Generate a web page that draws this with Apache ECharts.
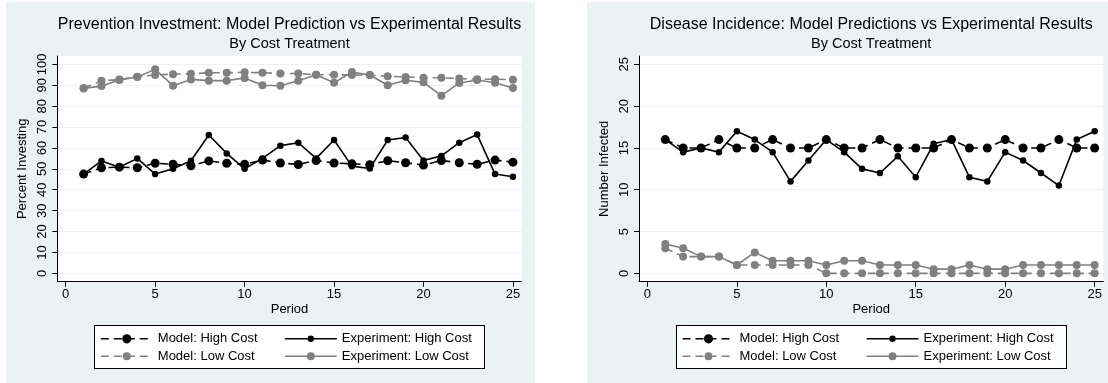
<!DOCTYPE html>
<html>
<head>
<meta charset="utf-8">
<script src="https://cdn.jsdelivr.net/npm/echarts@6/dist/echarts.min.js"></script>
<style>
html,body{margin:0;padding:0;background:#fff;overflow:hidden;width:1108px;height:383px;position:relative}
.panel{position:absolute;top:2px;width:529px;height:381px;background:#EAF2F3}
.lbox{position:absolute;top:325px;width:391px;height:44px;box-sizing:border-box;border:1px solid #000;background:#fff}
#c{position:absolute;left:0;top:0;width:1108px;height:383px}
</style>
</head>
<body>
<div class="panel" style="left:6px"></div>
<div class="panel" style="left:587px"></div>
<div class="lbox" style="left:94px"></div>
<div class="lbox" style="left:676px"></div>
<div id="c"></div>
<script>
// ---- data ----
const periods = [1,2,3,4,5,6,7,8,9,10,11,12,13,14,15,16,17,18,19,20,21,22,23,24,25];

// Left chart: Percent Investing
const invModelHigh = [47.5,50.5,50.8,50.5,52.7,52.2,51.5,53.8,52.7,52.2,54.2,52.8,52.1,54.0,52.8,52.4,52.0,53.9,52.9,51.8,54.0,52.9,52.2,54.2,53.2];
const invExpHigh   = [47.5,53.8,50.8,55.0,47.5,50.0,53.9,66.2,57.4,50.0,55.0,61.1,62.5,55.0,63.8,51.3,50.2,63.8,65.0,54.0,56.2,62.5,66.4,47.5,46.2];
const invModelLow  = [88.7,92.1,92.7,94.1,94.9,95.3,95.5,96.0,96.0,96.2,96.0,95.6,95.6,95.0,95.0,94.9,94.9,94.3,94.0,93.6,93.6,93.2,92.9,92.9,92.6];
const invExpLow    = [88.5,89.6,92.5,94.0,97.6,89.8,92.8,92.2,92.2,93.5,90.0,89.8,92.2,95.0,91.2,96.3,94.9,90.0,92.4,91.4,85.0,91.1,92.5,91.2,88.7];

// Right chart: Number Infected
const infModelHigh = [16,15,15,16,15,15,16,15,15,16,15,15,16,15,15,15,16,15,15,16,15,15,16,15,15];
const infExpHigh   = [16,14.5,15,14.5,17,16,14.5,11,13.5,16,14.5,12.5,12,14,11.5,15.5,16,11.5,11,14.5,13.5,12,10.5,16,17];
const infModelLow  = [3,2,2,2,1,1,1,1,1,0,0,0,0,0,0,0,0,0,0,0,0,0,0,0,0];
const infExpLow    = [3.5,3,2,2,1,2.5,1.5,1.5,1.5,1,1.5,1.5,1,1,1,0.5,0.5,1,0.5,0.5,1,1,1,1,1];

const xTicks   = [0,5,10,15,20,25];
const invTicks = [0,10,20,30,40,50,60,70,80,90,100];
const infTicks = [0,5,10,15,20,25];

const names = ['Model: High Cost','Experiment: High Cost','Model: Low Cost','Experiment: Low Cost'];
const titles = ['Prevention Investment: Model Prediction vs Experimental Results','Disease Incidence: Model Predictions vs Experimental Results'];
const subtitle = 'By Cost Treatment';
const yNames = ['Percent Investing','Number Infected'];
const xName = 'Period';

// ---- styling ----
const FONT = "'Liberation Sans', Arial, Helvetica, sans-serif";
const BLACK = '#000000', GRAY = '#808080';
const styles = [
  {color: BLACK, dash: [8,5], size: 9, lh: 11.5},
  {color: BLACK, dash: 'solid', size: 6.5, lh: 8},
  {color: GRAY, dash: [8,5], size: 8, lh: 10},
  {color: GRAY, dash: 'solid', size: 8, lh: 10}
];
const OFF = 581.7;
const plot = {left: 57.3, top: 56, width: 464.4, height: 225.7};
const xMin = -0.47, xMax = 25.49;

function mkSeries(idx, vals, gi) {
  const s = styles[idx];
  return {
    name: names[idx], type: 'line', xAxisIndex: gi, yAxisIndex: gi,
    data: periods.map((p, i) => [p, vals[i]]),
    symbol: 'circle', symbolSize: s.size, showAllSymbol: true,
    lineStyle: {color: s.color, width: 1.6, type: s.dash},
    itemStyle: {color: s.color},
    emphasis: {disabled: true}, silent: true, z: 2 + idx
  };
}

function mkX(gi) {
  return {
    type: 'value', gridIndex: gi, min: xMin, max: xMax,
    axisLine: {show: true, onZero: false, lineStyle: {color: '#000', width: 1}},
    axisTick: {show: true, length: 5, customValues: xTicks, lineStyle: {color: '#000', width: 1}},
    axisLabel: {customValues: xTicks, margin: 6, fontSize: 13, color: '#000', fontFamily: FONT},
    splitLine: {show: false},
    name: xName, nameLocation: 'middle', nameGap: 21, nameMoveOverlap: false,
    nameTextStyle: {fontSize: 13, color: '#000', fontFamily: FONT}
  };
}
function mkY(gi, min, max, ticks) {
  return {
    type: 'value', gridIndex: gi, min: min, max: max,
    axisLine: {show: true, onZero: false, lineStyle: {color: '#000', width: 1}},
    axisTick: {show: true, length: 5, customValues: ticks, lineStyle: {color: '#000', width: 1}},
    axisLabel: {customValues: ticks, rotate: 90, margin: 8, fontSize: 13, color: '#000', fontFamily: FONT},
    splitLine: {show: true, lineStyle: {color: '#EAF2F3', width: 1}},
    name: yNames[gi], nameLocation: 'middle', nameGap: 28, nameMoveOverlap: false,
    nameTextStyle: {fontSize: 13, color: '#000', fontFamily: FONT}
  };
}

const legends = [];
[0, 1].forEach(gi => {
  const dx = gi * OFF;
  names.forEach((n, idx) => {
    const col = idx % 2, row = Math.floor(idx / 2);
    legends.push({
      show: true, data: [n], selectedMode: false, padding: 0,
      left: (col === 0 ? 100 : 284) + dx,
      top: row === 0 ? 332.3 : 349.8,
      itemWidth: 52, itemHeight: styles[idx].lh,
      lineStyle: {width: 1.6},
      textStyle: {fontSize: 13, color: '#000', fontFamily: FONT}
    });
  });
});

const graphics = [];
[0, 1].forEach(gi => {
  const cx = plot.left + plot.width / 2 + gi * OFF;
  graphics.push({type: 'text', silent: true, style: {text: titles[gi], x: cx, y: 24.3, align: 'center', verticalAlign: 'middle', fill: '#000', font: "16px " + FONT}});
  graphics.push({type: 'text', silent: true, style: {text: subtitle, x: cx, y: 44.3, align: 'center', verticalAlign: 'middle', fill: '#000', font: "14.5px " + FONT}});
});

const option = {
  animation: false,
  backgroundColor: 'transparent',
  grid: [0, 1].map(gi => ({
    left: plot.left + gi * OFF, top: plot.top, width: plot.width, height: plot.height,
    show: true, backgroundColor: '#ffffff', borderWidth: 0, containLabel: false, outerBoundsMode: 'none'
  })),
  xAxis: [mkX(0), mkX(1)],
  yAxis: [mkY(0, -4, 104, invTicks), mkY(1, -1, 26, infTicks)],
  legend: legends,
  graphic: graphics,
  series: [
    mkSeries(0, invModelHigh, 0), mkSeries(1, invExpHigh, 0), mkSeries(2, invModelLow, 0), mkSeries(3, invExpLow, 0),
    mkSeries(0, infModelHigh, 1), mkSeries(1, infExpHigh, 1), mkSeries(2, infModelLow, 1), mkSeries(3, infExpLow, 1)
  ]
};

const chart = echarts.init(document.getElementById('c'), null, {renderer: 'canvas'});
chart.setOption(option);
</script>
</body>
</html>
